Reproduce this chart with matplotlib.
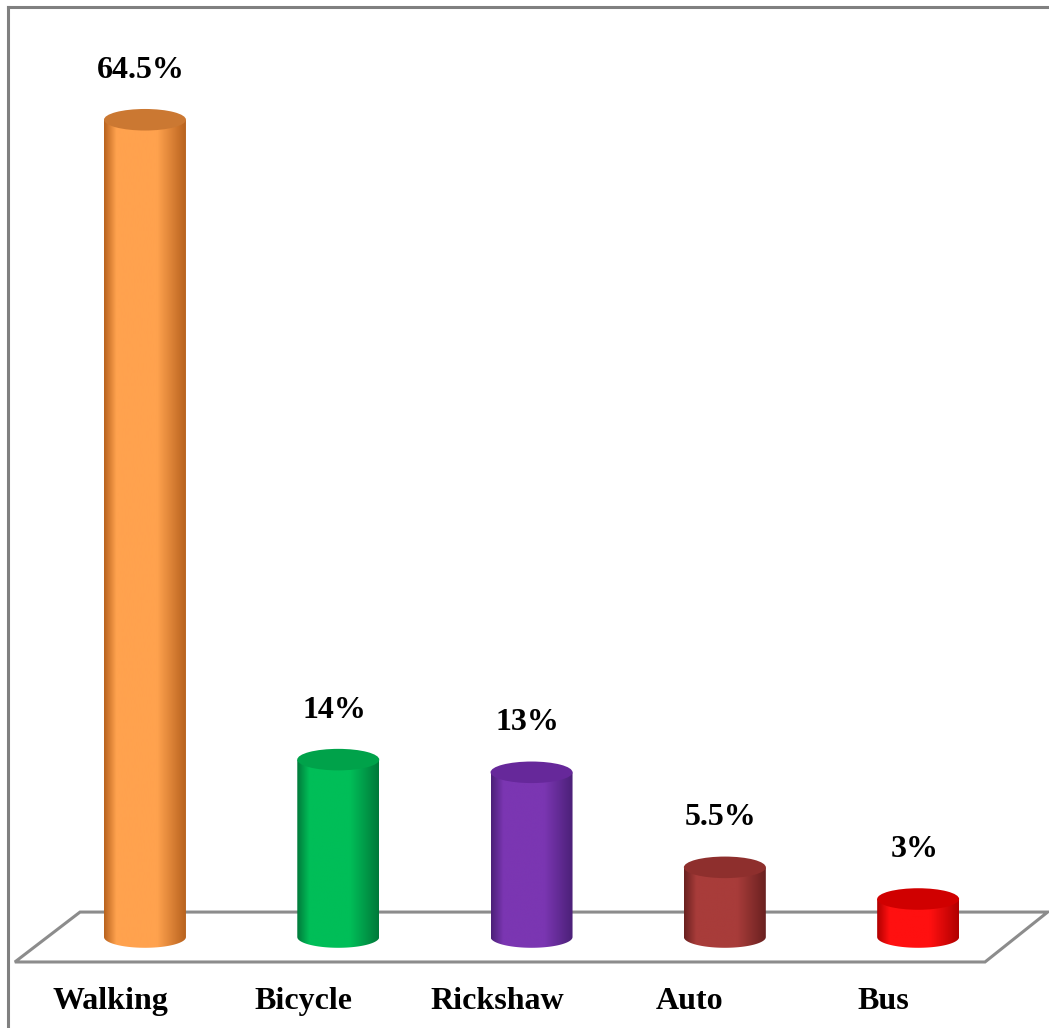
import numpy as np
import matplotlib
matplotlib.use("Agg")
from matplotlib import pyplot as plt
from matplotlib.patches import Polygon, Ellipse
from matplotlib.colors import LinearSegmentedColormap
from matplotlib.lines import Line2D

categories = ["Walking", "Bicycle", "Rickshaw", "Auto", "Bus"]
values = [64.5, 14, 13, 5.5, 3]
labels = ["64.5%", "14%", "13%", "5.5%", "3%"]

# dark edge, light middle, top face
palette = [
    ("#B8621E", "#FFA24E", "#CB7832"),
    ("#00793A", "#00BE58", "#00A24A"),
    ("#4B2078", "#7B36B2", "#66289A"),
    ("#6A2120", "#A83C3A", "#8E2F2D"),
    ("#B00000", "#FF1010", "#D00000"),
]

plt.rcParams["font.family"] = ["Liberation Serif", "DejaVu Serif"]

fig = plt.figure(figsize=(10.49, 10.28), dpi=100)
ax = fig.add_axes([0, 0, 1, 1])
ax.axis("off")

half_w = 0.212
ell_h = 0.85

# floor
floor = Polygon([(-0.673, -1.97), (4.346, -1.97), (4.67, 1.97), (-0.336, 1.97)],
                closed=True, facecolor="white", edgecolor="#8c8c8c", lw=2.2, zorder=1)
ax.add_patch(floor)

t = np.linspace(np.pi, 2 * np.pi, 60)
for i, (v, (dark, light, topc)) in enumerate(zip(values, palette)):
    x0 = i
    xs = np.concatenate([[x0 - half_w], x0 + half_w * np.cos(t), [x0 + half_w]])
    ys = np.concatenate([[v], ell_h * np.sin(t), [v]])
    body = Polygon(np.column_stack([xs, ys]), closed=True, facecolor="none",
                   edgecolor="none", zorder=2)
    ax.add_patch(body)
    cmap = LinearSegmentedColormap.from_list(
        "c%d" % i, [(0, dark), (0.15, light), (0.65, light), (1, dark)])
    grad = np.linspace(0, 1, 256).reshape(1, -1)
    im = ax.imshow(grad, cmap=cmap, aspect="auto", zorder=2,
                   extent=[x0 - half_w, x0 + half_w, -ell_h, v], interpolation="bilinear")
    im.set_clip_path(body)
    ax.add_patch(Ellipse((x0, v), 2 * half_w, 2 * ell_h, facecolor=topc,
                         edgecolor="none", zorder=3))
    ax.text(x0 - 0.02, v + 3.9, labels[i], ha="center", va="center",
            fontsize=23, fontweight="bold", zorder=4)
    ax.text(x0 - 0.18, -5.1, categories[i], ha="center", va="center",
            fontsize=23, fontweight="bold", zorder=4)

ax.set_xlim(-0.750, 4.677)
ax.set_ylim(-7.18, 73.95)

# chart border (left and top)
fig.add_artist(Line2D([8 / 1049, 8 / 1049], [0, 1 - 7 / 1028], color="#808080", lw=2.2))
fig.add_artist(Line2D([8 / 1049, 1], [1 - 7 / 1028, 1 - 7 / 1028], color="#808080", lw=2.2))

fig.savefig("out.png", dpi=100, facecolor="white")
